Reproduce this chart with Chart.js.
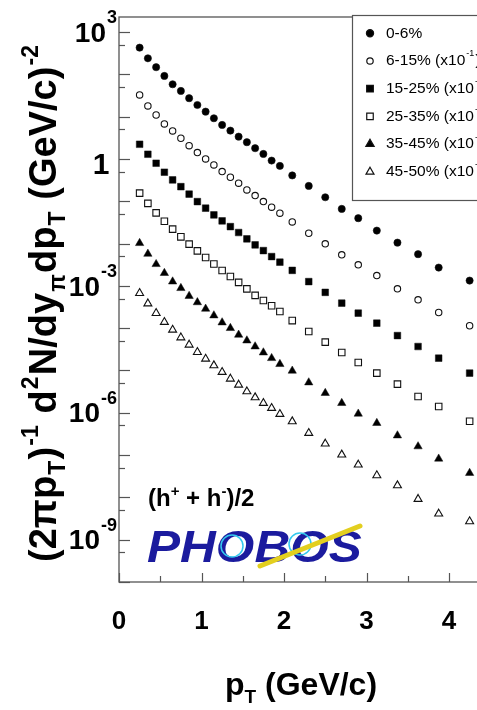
<!DOCTYPE html>
<html><head><meta charset="utf-8">
<script src="https://cdn.jsdelivr.net/npm/chart.js@4.4.1/dist/chart.umd.min.js"></script>
<style>html,body{margin:0;padding:0;overflow:hidden;background:#fff;width:477px;height:710px}canvas{display:block}</style>
</head><body><canvas id="c" width="520" height="710"></canvas>
<script>
// ---- data ----
const pT = [0.25,0.35,0.45,0.55,0.65,0.75,0.85,0.95,1.05,1.15,1.25,1.35,1.45,1.55,1.65,1.75,1.85,1.95,2.1,2.3,2.5,2.7,2.9,3.125,3.375,3.625,3.875,4.25];
const c0_6   = [426,239,147,91.4,58.1,40.4,27.2,18.8,13.1,9.15,6.35,4.66,3.36,2.48,1.79,1.31,0.912,0.683,0.407,0.230,0.124,0.0659,0.0397,0.0202,0.0105,0.0056,0.0027,0.00133];
const c6_15  = [32.5,17.9,10.9,6.71,4.58,3.08,2.06,1.41,1.00,0.721,0.501,0.369,0.267,0.185,0.136,0.098,0.0723,0.0521,0.0324,0.0175,0.00982,0.0054,0.00313,0.00175,0.000849,0.000467,0.000234,0.000114];
const c15_25 = [2.22,1.29,0.791,0.485,0.319,0.221,0.147,0.0979,0.0684,0.0475,0.0343,0.0251,0.0182,0.0129,0.00929,0.00681,0.00492,0.00362,0.00232,0.00126,0.000701,0.00039,0.000226,0.000131,6.68e-5,3.68e-5,1.95e-5,8.65e-6];
const c25_35 = [0.155,0.0889,0.053,0.0337,0.0219,0.0144,0.0097,0.0067,0.00466,0.00327,0.0023,0.00166,0.00121,0.000849,0.000596,0.000449,0.000337,0.000247,0.000151,8.32e-5,4.67e-5,2.65e-5,1.54e-5,8.65e-6,4.75e-6,2.42e-6,1.41e-6,6.29e-7];
const c35_45 = [0.0102,0.00569,0.00325,0.002,0.00126,0.000881,0.000574,0.000407,0.000286,0.000199,0.000136,0.0001,6.95e-5,5.09e-5,3.68e-5,2.65e-5,1.95e-5,1.41e-5,9.82e-6,5.19e-6,2.92e-6,1.69e-6,9.46e-7,5.7e-7,2.9e-7,1.6e-7,8.18e-8,3.76e-8];
const c45_50 = [0.000671,0.000381,0.000226,0.000139,9.12e-5,6.0e-5,4.04e-5,2.71e-5,1.88e-5,1.31e-5,9.14e-6,6.35e-6,4.58e-6,3.18e-6,2.30e-6,1.69e-6,1.29e-6,9.31e-7,6.22e-7,3.31e-7,1.85e-7,1.02e-7,5.9e-8,3.3e-8,1.91e-8,9.12e-9,4.1e-9,2.7e-9];
const seriesLabels = ['0-6%','6-15%','15-25%','25-35%','35-45%','45-50%'];
const seriesScaleExp = ['', '-1', '-2', '-3', '-4', '-5'];
const yTickExps = [3, 0, -3, -6, -9];
const xTickLabels = ['0','1','2','3','4'];

const FONT = '"Liberation Sans", Arial, Helvetica, sans-serif';
const allSeries = [c0_6, c6_15, c15_25, c25_35, c35_45, c45_50];
const marker = [
  {ps:'circle',   fill:true,  r:3.6, bw:0.6},
  {ps:'circle',   fill:false, r:3.2, bw:1.1},
  {ps:'rect',     fill:true,  r:4.7, bw:0.5},
  {ps:'rect',     fill:false, r:4.6, bw:1.1},
  {ps:'triangle', fill:true,  r:4.8, bw:0.5},
  {ps:'triangle', fill:false, r:4.6, bw:1.1},
];

const datasets = allSeries.map((vals, k) => ({
  label: seriesLabels[k],
  data: pT.map((x, i) => ({x: x, y: vals[i]})),
  showLine: false,
  pointStyle: marker[k].ps,
  pointRadius: marker[k].r,
  pointHoverRadius: marker[k].r,
  pointBackgroundColor: marker[k].fill ? '#000' : '#fff',
  pointBorderColor: '#111',
  pointBorderWidth: marker[k].bw
}));

function drawRich(ctx, segs, x, y) {
  let cx = x;
  for (const s of segs) {
    ctx.font = 'bold ' + s.size + 'px ' + FONT;
    ctx.fillText(s.t, cx, y + (s.dy || 0));
    cx += ctx.measureText(s.t).width + (s.gap || 0);
  }
  return cx - x;
}
function richWidth(ctx, segs) {
  let w = 0;
  for (const s of segs) { ctx.font = 'bold ' + s.size + 'px ' + FONT; w += ctx.measureText(s.t).width; }
  return w;
}

const decor = {
  id: 'decor',
  afterDatasetsDraw(chart) {
    const ctx = chart.ctx;
    const xs = chart.scales.x, ys = chart.scales.y, a = chart.chartArea;
    ctx.save();
    // frame
    ctx.strokeStyle = '#555'; ctx.lineWidth = 1.3;
    ctx.strokeRect(a.left, a.top, a.right - a.left, a.bottom - a.top);
    // y ticks
    ctx.strokeStyle = '#555'; ctx.lineWidth = 1.2;
    for (let n = -10; n <= 3; n++) {
      const v1 = Math.pow(10, n), v2 = 5 * Math.pow(10, n - 1);
      [[v1, 11], [v2, 6]].forEach(([v, len]) => {
        if (v < ys.min || v > ys.max) return;
        const py = Math.round(ys.getPixelForValue(v)) + 0.5;
        ctx.beginPath(); ctx.moveTo(a.left, py); ctx.lineTo(a.left + len, py); ctx.stroke();
      });
    }
    // x ticks
    for (let k = 0; k <= 9; k++) {
      const v = k * 0.5;
      const px = Math.round(xs.getPixelForValue(v)) + 0.5;
      const len = (k % 2 === 0) ? 9 : 6;
      ctx.beginPath(); ctx.moveTo(px, a.bottom); ctx.lineTo(px, a.bottom - len); ctx.stroke();
    }
    ctx.fillStyle = '#000';
    ctx.textBaseline = 'middle';
    // y tick labels
    for (const e of yTickExps) {
      const py = ys.getPixelForValue(Math.pow(10, e));
      if (e === 0) {
        ctx.font = 'bold 30px ' + FONT; ctx.textAlign = 'center';
        ctx.fillText('1', 101, py + 7);
        continue;
      }
      const es = String(e);
      ctx.font = 'bold 18px ' + FONT; ctx.textAlign = 'left';
      const ew = ctx.measureText(es).width;
      const right = 117;
      ctx.fillText(es, right - ew, py - 14);
      ctx.font = 'bold 28px ' + FONT; ctx.textAlign = 'right';
      ctx.fillText('10', right - ew - 1, py + 2);
    }
    // x tick labels
    ctx.font = 'bold 26px ' + FONT; ctx.textAlign = 'center';
    xTickLabels.forEach((t) => {
      const px = xs.getPixelForValue(Number(t));
      ctx.fillText(t, px, 622);
    });
    // x title
    ctx.textAlign = 'left'; ctx.textBaseline = 'alphabetic';
    drawRich(ctx, [
      {t:'p', size:32},
      {t:'T', size:19, dy:8},
      {t:' (GeV/c)', size:32}
    ], 225, 695);
    // y title (rotated)
    const ysegs = [
      {t:'(2\u03c0p', size:38},
      {t:'T', size:23, dy:9},
      {t:')', size:38},
      {t:'-1', size:23, dy:-18},
      {t:' d', size:38},
      {t:'2', size:23, dy:-18},
      {t:'N/dy', size:38},
      {t:'\u03c0', size:23, dy:9},
      {t:'dp', size:38},
      {t:'T', size:23, dy:9},
      {t:' (GeV/c)', size:38},
      {t:'-2', size:23, dy:-18}
    ];
    const natural = richWidth(ctx, ysegs);
    const target = 517;
    const gap = Math.max(0, (target - natural) / (ysegs.length - 1));
    ysegs.forEach(s => s.gap = gap);
    ctx.save();
    ctx.translate(56, 562);
    ctx.rotate(-Math.PI / 2);
    drawRich(ctx, ysegs, 0, 0);
    ctx.restore();
    // (h+ + h-)/2
    drawRich(ctx, [
      {t:'(h', size:24},
      {t:'+', size:15, dy:-10},
      {t:' + h', size:24},
      {t:'-', size:15, dy:-10},
      {t:')/2', size:24}
    ], 148, 506);
    // PHOBOS logo (text)
    ctx.save();
    ctx.translate(147, 562);
    ctx.scale(1.18, 1.05);
    ctx.font = 'italic bold 42px ' + FONT;
    ctx.fillStyle = '#1b1b9e';
    ctx.fillText('PHOBOS', 0, 0);
    ctx.restore();
    ctx.strokeStyle = '#33c8ee'; ctx.lineWidth = 1.5;
    [[232, 546, 11], [300, 544, 11]].forEach(([cx, cy, r]) => {
      ctx.beginPath(); ctx.arc(cx, cy, r, 0, Math.PI * 2); ctx.stroke();
    });
    ctx.strokeStyle = '#e3cf1f'; ctx.lineWidth = 5; ctx.lineCap = 'round';
    ctx.beginPath(); ctx.moveTo(260, 566); ctx.lineTo(360, 526); ctx.stroke();
    // legend
    ctx.fillStyle = '#fff'; ctx.fillRect(352, 15, 200, 185);
    ctx.strokeStyle = '#555'; ctx.lineWidth = 1.2;
    ctx.strokeRect(352.5, 15.5, 200, 185);
    seriesLabels.forEach((lab, k) => {
      const ly = 33.3 + 27.7 * k;
      ctx.fillStyle = marker[k].fill ? '#000' : '#fff';
      ctx.strokeStyle = '#111';
      Chart.helpers.drawPoint(ctx, {pointStyle: marker[k].ps, radius: marker[k].r, rotation: 0, borderWidth: marker[k].bw}, 370, ly);
      ctx.fillStyle = '#000';
      ctx.textBaseline = 'middle'; ctx.textAlign = 'left';
      ctx.font = '15.5px ' + FONT;
      let x0 = 386;
      ctx.fillText(lab, x0, ly); x0 += ctx.measureText(lab).width;
      if (seriesScaleExp[k]) {
        const t1 = ' (x10'; ctx.fillText(t1, x0, ly); x0 += ctx.measureText(t1).width;
        ctx.font = '9px ' + FONT; ctx.fillText(seriesScaleExp[k], x0 + 1, ly - 7); x0 += ctx.measureText(seriesScaleExp[k]).width + 2;
        ctx.font = '15.5px ' + FONT; ctx.fillText(')', x0, ly);
      }
    });
    ctx.restore();
  }
};

new Chart(document.getElementById('c'), {
  type: 'scatter',
  data: { datasets: datasets },
  options: {
    responsive: false, animation: false, devicePixelRatio: 1,
    layout: { padding: { top: 17, right: 520 - 490.25, left: 0, bottom: 0 } },
    plugins: { legend: { display: false }, tooltip: { enabled: false } },
    scales: {
      x: { type: 'linear', min: 0, max: 4.5, grid: { display: false }, border: { display: false }, ticks: { display: false }, afterFit: s => { s.height = 128; } },
      y: { type: 'logarithmic', min: 1e-10, max: 2260, grid: { display: false }, border: { display: false }, ticks: { display: false }, afterFit: s => { s.width = 119; } }
    }
  },
  plugins: [decor]
});
</script>
</body></html>
